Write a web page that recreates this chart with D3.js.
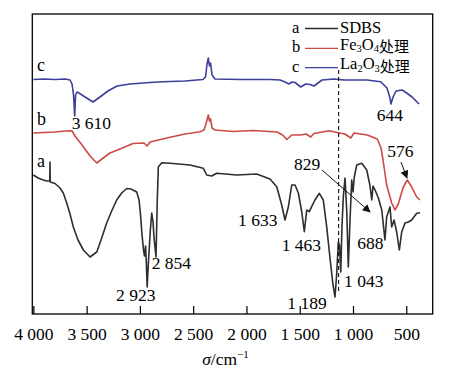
<!DOCTYPE html>
<html><head><meta charset="utf-8">
<script src="https://cdn.jsdelivr.net/npm/d3@7/dist/d3.min.js"></script>
<style>
html,body{margin:0;padding:0;background:#fff}
svg{display:block}
svg text{font-family:'Liberation Serif','Times New Roman','DejaVu Serif',serif}
svg text .cjk{font-family:'Noto Sans CJK SC','Noto Sans CJK JP',sans-serif}
</style></head>
<body><div id="chart"></div>
<script>
// spectra: [wavenumber cm-1, relative transmittance (offset stacked)]
const specC = [[4000,234.5],[3900,235],[3800,234.5],[3700,235],[3656,234],[3637,230],[3623,219],[3612,198],[3604,219],[3590,222],[3572,221],[3515,217],[3440,212],[3375,217],[3300,223],[3215,228],[3093,230],[2905,231.5],[2783,232.3],[2577,233],[2408,234.5],[2384,237],[2370,250],[2358,256],[2347,248],[2337,251],[2323,239],[2295,235],[2060,234.5],[1779,234.5],[1685,234],[1638,232],[1601,230],[1573,232],[1544,231.5],[1491,227],[1444,230],[1403,229.5],[1366,228],[1291,234],[1178,235],[1084,234],[868,234],[740,232.3],[681,226],[653,216],[644,210],[624,217],[596,223],[540,224],[496,221],[446,217],[380,210]];
const specB = [[4000,181],[3900,181.5],[3800,182],[3700,183],[3656,183.3],[3637,183],[3609,178],[3543,169],[3468,158],[3405,151],[3356,155],[3281,161],[3187,165],[3065,170.5],[2962,171],[2933,168],[2905,172],[2748,176],[2577,180],[2436,182.3],[2398,184],[2380,190],[2358,199],[2347,193],[2337,195],[2323,186],[2295,184],[2126,182.5],[1938,183.5],[1713,182],[1660,179],[1622,174.5],[1575,179],[1491,179],[1441,180],[1397,177],[1366,180.5],[1225,183.3],[1115,180.7],[1075,180],[1021,176],[990,181],[866,179],[772,175],[737,166],[718,154],[684,129],[637,111],[606,104],[575,110],[528,127],[490,134],[449,127],[402,117],[371,114]];
const specA = [[4000,139],[3956,136],[3907,134],[3872,133],[3846,133],[3844,152],[3842,132],[3797,130.5],[3750,126],[3719,121],[3687,111],[3656,100],[3625,87],[3581,74],[3531,64],[3468,57],[3405,62],[3365,74],[3312,91],[3265,103],[3218,114],[3171,121],[3124,125.5],[3084,125],[3030,122],[3008,114],[2994,99],[2980,79],[2966,64],[2957,58],[2947,68],[2940,52],[2932,27],[2922,48],[2902,84],[2889,101],[2877,92],[2868,77],[2849,57],[2837,114],[2827,147],[2795,151.3],[2717,150.7],[2530,149],[2405,145.7],[2373,139],[2326,138],[2279,140.7],[2091,139],[1904,140],[1779,135],[1716,127.3],[1669,109],[1638,94],[1607,107],[1575,129],[1544,129],[1513,121],[1481,102],[1457,82.3],[1434,104],[1410,102.3],[1388,107.3],[1357,114],[1316,120.7],[1279,114],[1247,87.3],[1216,56],[1190,31],[1169,17],[1153,40],[1138,72],[1127,69],[1115,42],[1103,89],[1091,117],[1075,136],[1059,104],[1044,47],[1028,94],[1012,134],[1000,122],[988,137],[965,149],[918,150.7],[871,144],[840,128],[824,114],[812,128],[793,124],[762,116],[730,104],[700,74],[684,97],[653,107],[637,87],[615,94],[590,82],[565,64],[543,82],[512,91],[481,92],[449,94],[402,100.7],[371,101.3]];

const xTicks = [4000, 3500, 3000, 2500, 2000, 1500, 1000, 500];
// annotation labels: text, wavenumber, value (left edge / baseline)
const peakLabels = [
  ['3 610', 3640, 184.7], ['644', 777, 193], ['576', 678, 157], ['829', 1554, 144],
  ['1 633', 2079, 88], ['1 463', 1669, 63.3], ['1 189', 1617, 4.7], ['1 043', 1084, 26.7],
  ['688', 960, 64.7], ['2 923', 3224, 13.3], ['2 854', 2889, 44.7]
];
const curveLetters = [['c', 3966, 243], ['b', 3966, 189], ['a', 3966, 147]];
const arrows = [[[1291, 144], [840, 102]], [[549, 152], [493, 136]]];
const dashW = 1135, dashV = [244, 21];

const series = [
  { key: 'a', name: 'SDBS', data: specA, color: '#2e2e2e' },
  { key: 'b', name: 'Fe3O4', color: '#cc4a44', data: specB },
  { key: 'c', name: 'La2O3', color: '#3d3f99', data: specC },
];

const W = 468, H = 376;
const svg = d3.select('#chart').append('svg').attr('width', W).attr('height', H);
const x = d3.scaleLinear().domain([4010, 252]).range([32.3, 432.7]);
const y = d3.scaleLinear().domain([0, 300]).range([314, 14]);

svg.append('defs').append('marker').attr('id', 'ah').attr('viewBox', '0 0 10 10')
  .attr('refX', 9).attr('refY', 5).attr('markerWidth', 10).attr('markerHeight', 8)
  .attr('markerUnits', 'userSpaceOnUse').attr('orient', 'auto')
  .append('path').attr('d', 'M0,0L10,5L0,10z').attr('fill', '#111');

const line = d3.line().x(d => x(d[0])).y(d => y(d[1]));
svg.append('g').selectAll('path').data(series).join('path')
  .attr('d', d => line(d.data)).attr('fill', 'none').attr('stroke', d => d.color)
  .attr('stroke-width', 1.6).attr('stroke-linejoin', 'round');

// dashed reference line
svg.append('line').attr('x1', x(dashW)).attr('x2', x(dashW)).attr('y1', y(dashV[0])).attr('y2', y(dashV[1]))
  .attr('stroke', '#111').attr('stroke-width', 1.1).attr('stroke-dasharray', '4,3');

// frame
svg.append('rect').attr('x', x.range()[0]).attr('y', y.range()[1])
  .attr('width', x.range()[1] - x.range()[0]).attr('height', y.range()[0] - y.range()[1])
  .attr('fill', 'none').attr('stroke', '#000').attr('stroke-width', 1.3);

const fmt = v => v >= 1000 ? `${Math.floor(v / 1000)} ${String(v % 1000).padStart(3, '0')}` : String(v);
const ax = svg.append('g').attr('transform', `translate(0,${y(0)})`)
  .call(d3.axisBottom(x).tickValues(xTicks).tickFormat(fmt).tickSize(-8).tickPadding(14));
ax.attr('font-family', null).attr('font-size', null);
ax.select('.domain').remove();
ax.selectAll('line').attr('stroke', '#000').attr('stroke-width', 1.2);
ax.selectAll('text').attr('font-size', 17.5).attr('fill', '#000');

const title = svg.append('text').attr('x', 225.5).attr('y', 365).attr('text-anchor', 'middle')
  .attr('font-size', 17.5).attr('fill', '#000');
title.append('tspan').attr('font-style', 'italic').text('σ');
title.append('tspan').text('/cm');
title.append('tspan').attr('font-size', 11).attr('dy', -7).text('−1');

// curve letters and peak labels
svg.append('g').selectAll('text').data(curveLetters).join('text')
  .attr('x', d => x(d[1])).attr('y', d => y(d[2])).attr('font-size', 18).attr('fill', '#000').text(d => d[0]);
svg.append('g').selectAll('text').data(peakLabels).join('text')
  .attr('x', d => x(d[1])).attr('y', d => y(d[2])).attr('font-size', 17.5).attr('fill', '#000').text(d => d[0]);

svg.append('g').selectAll('line').data(arrows).join('line')
  .attr('x1', d => x(d[0][0])).attr('y1', d => y(d[0][1]))
  .attr('x2', d => x(d[1][0])).attr('y2', d => y(d[1][1]))
  .attr('stroke', '#111').attr('stroke-width', 1).attr('marker-end', 'url(#ah)');

// legend
const lg = svg.append('g').attr('font-size', 16.5).attr('fill', '#000');
const rows = [['a', '#2e2e2e', 32.5], ['b', '#cc4a44', 52.3], ['c', '#3d3f99', 71.7]];
rows.forEach(([k, c, by]) => {
  lg.append('text').attr('x', 292).attr('y', by).text(k);
  lg.append('line').attr('x1', 305).attr('x2', 338).attr('y1', by - 4).attr('y2', by - 4)
    .attr('stroke', c).attr('stroke-width', 1.3);
});
lg.append('text').attr('x', 340).attr('y', 32.5).text('SDBS');
function chem(by, parts) {
  const t = lg.append('text').attr('x', 340).attr('y', by);
  parts.forEach(([s, sub]) => {
    if (sub) t.append('tspan').attr('font-size', 10.5).attr('dy', 2.5).text(s);
    else t.append('tspan').attr('dy', t.selectAll('tspan').size() ? -2.5 : 0).text(s);
  });
  t.append('tspan').attr('class', 'cjk').attr('font-size', 15).text('处理');
}
chem(52.3, [['Fe'], ['3', 1], ['O'], ['4', 1]]);
chem(71.7, [['La'], ['2', 1], ['O'], ['3', 1]]);
</script></body></html>
